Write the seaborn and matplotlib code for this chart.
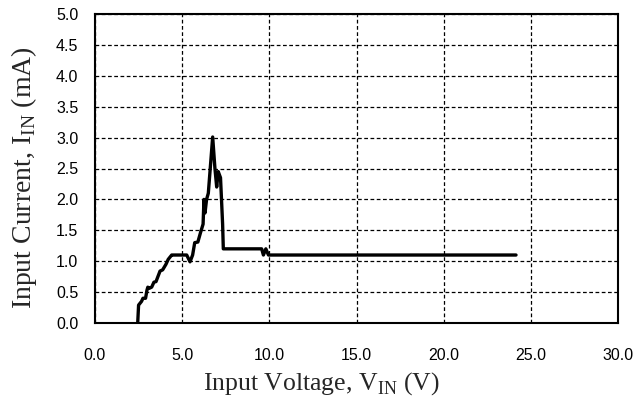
import matplotlib
matplotlib.use("Agg")
import matplotlib.pyplot as plt
import seaborn as sns
import pandas as pd
from matplotlib.ticker import MultipleLocator, FormatStrFormatter

# Input current vs. input voltage
vin = [2.45, 2.50, 2.67, 2.75, 2.90, 2.98, 3.03, 3.10, 3.25, 3.38, 3.50, 3.73, 3.88,
       4.07, 4.20, 4.40, 4.50, 5.26, 5.45, 5.60, 5.72, 5.90, 6.05, 6.20, 6.25, 6.31,
       6.40, 6.50, 6.75, 6.88, 6.98, 7.07, 7.20, 7.32, 7.36, 9.56, 9.66, 9.80, 9.95, 24.15]
iin = [0.00, 0.29, 0.35, 0.40, 0.40, 0.53, 0.58, 0.56, 0.58, 0.66, 0.67, 0.84, 0.86,
       0.95, 1.03, 1.10, 1.10, 1.10, 0.99, 1.10, 1.30, 1.31, 1.46, 1.60, 2.00, 1.78,
       2.00, 2.10, 3.01, 2.50, 2.20, 2.45, 2.35, 1.60, 1.20, 1.20, 1.10, 1.20, 1.10, 1.10]

x_ticks_major = 5.0
y_ticks_major = 0.5

sns.set_theme(style="white")
plt.rcParams["font.family"] = ["Liberation Sans", "DejaVu Sans"]
plt.rcParams["mathtext.fontset"] = "custom"
plt.rcParams["mathtext.rm"] = "Liberation Serif"

fig = plt.figure(figsize=(6.39, 4.03), dpi=100)
ax = fig.add_axes([95 / 639, 1 - 323 / 403, (618 - 95) / 639, (323 - 14) / 403])

df = pd.DataFrame({"V": vin, "I": iin})
sns.lineplot(data=df, x="V", y="I", ax=ax, color="black", linewidth=2.4,
             sort=False, estimator=None)

ax.set_xlim(0, 30)
ax.set_ylim(0, 5)
ax.xaxis.set_major_locator(MultipleLocator(x_ticks_major))
ax.yaxis.set_major_locator(MultipleLocator(y_ticks_major))
ax.xaxis.set_major_formatter(FormatStrFormatter("%.1f"))
ax.yaxis.set_major_formatter(FormatStrFormatter("%.1f"))
ax.grid(True, color="black", linestyle=(0, (3, 2)), linewidth=0.9)
ax.set_axisbelow(True)
for s in ax.spines.values():
    s.set_color("black")
    s.set_linewidth(1.5)
ax.tick_params(axis="both", length=0, labelsize=11.5, colors="black")
ax.tick_params(axis="x", pad=18)
ax.tick_params(axis="y", pad=12)

ax.set_xlabel(r"Input Voltage, V$_{\mathrm{IN}}$ (V)",
              fontdict={"family": "Liberation Serif", "size": 18.5}, labelpad=4)
ax.set_ylabel(r"Input Current, I$_{\mathrm{IN}}$ (mA)",
              fontdict={"family": "Liberation Serif", "size": 20}, labelpad=12)
ax.xaxis.set_label_coords(0.432, -0.152)
ax.yaxis.label.set_y(0.47)

fig.savefig("out.png", dpi=100, facecolor="white")
